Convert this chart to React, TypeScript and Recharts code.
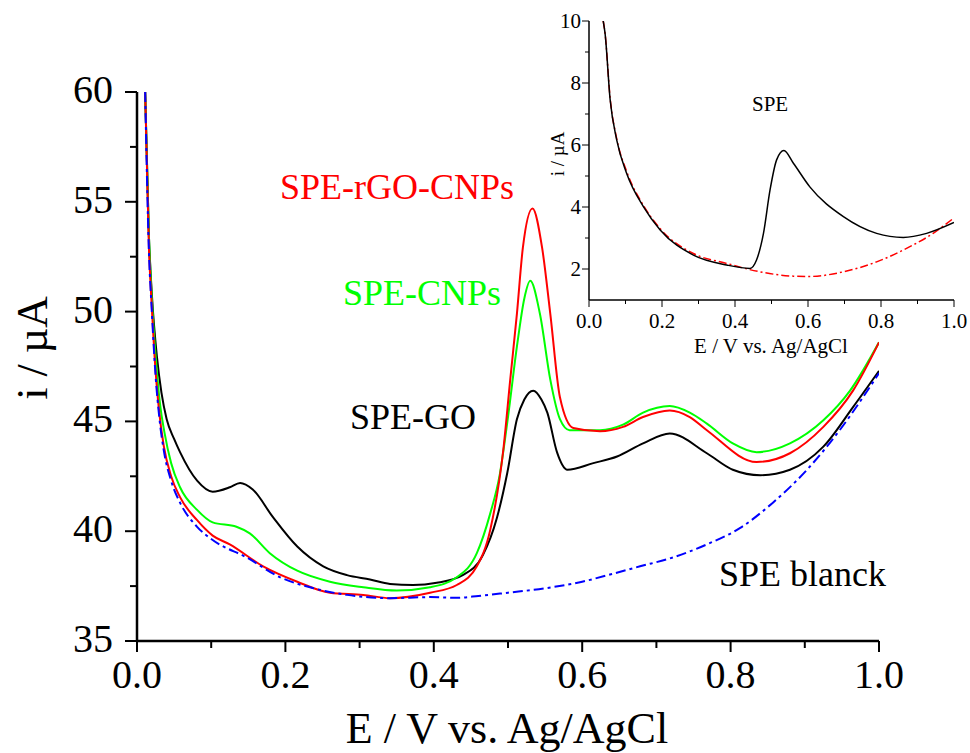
import React from "react";
import { LineChart, Line, XAxis, YAxis } from "recharts";

const FONT = '"Liberation Serif", "Times New Roman", serif';

// main chart: potential (V) and current (µA) per electrode
const goV = [0.011, 0.016, 0.02, 0.027, 0.033, 0.04, 0.05, 0.058, 0.081, 0.102, 0.125, 0.139, 0.156, 0.183, 0.216, 0.251, 0.283, 0.314, 0.341, 0.372, 0.404, 0.439, 0.466, 0.485, 0.499, 0.512, 0.522, 0.534, 0.545, 0.553, 0.566, 0.58, 0.615, 0.647, 0.682, 0.718, 0.768, 0.803, 0.84, 0.88, 0.925, 0.965, 1.0];
const goI = [60, 53.5, 50.8, 47.9, 46.3, 45.1, 44.2, 43.6, 42.3, 41.8, 42.0, 42.2, 41.9, 40.65, 39.3, 38.4, 38.0, 37.8, 37.6, 37.55, 37.65, 38.0, 38.9, 40.6, 42.65, 45.1, 46.0, 46.4, 46.0, 45.4, 43.6, 42.8, 43.1, 43.4, 44.0, 44.45, 43.55, 42.8, 42.55, 42.8, 43.85, 45.65, 47.3];

const cnpsV = [0.011, 0.016, 0.02, 0.026, 0.031, 0.037, 0.046, 0.058, 0.081, 0.102, 0.134, 0.152, 0.179, 0.216, 0.26, 0.305, 0.35, 0.395, 0.431, 0.458, 0.476, 0.489, 0.5, 0.512, 0.522, 0.53, 0.543, 0.557, 0.57, 0.583, 0.624, 0.655, 0.682, 0.718, 0.745, 0.768, 0.803, 0.835, 0.88, 0.925, 0.961, 1.0];
const cnpsI = [60, 53.5, 50.6, 47.6, 45.8, 44.5, 43.1, 42.0, 40.97, 40.4, 40.2, 39.9, 39.0, 38.2, 37.7, 37.45, 37.3, 37.45, 37.9, 39.0, 40.8, 42.6, 45.2, 48.4, 50.6, 51.4, 49.9, 46.9, 45.1, 44.6, 44.6, 44.85, 45.4, 45.7, 45.4, 44.9, 44.0, 43.6, 44.0, 45.05, 46.4, 48.6];

const rgoV = [0.011, 0.016, 0.02, 0.025, 0.03, 0.036, 0.046, 0.058, 0.081, 0.102, 0.125, 0.17, 0.216, 0.26, 0.305, 0.341, 0.395, 0.431, 0.458, 0.476, 0.494, 0.503, 0.512, 0.52, 0.533, 0.546, 0.557, 0.57, 0.588, 0.624, 0.655, 0.682, 0.718, 0.745, 0.768, 0.835, 0.88, 0.925, 0.965, 1.0];
const rgoI = [60, 53, 50.2, 47.3, 45.4, 43.9, 42.5, 41.55, 40.5, 39.8, 39.4, 38.4, 37.7, 37.2, 37.1, 36.95, 37.2, 37.55, 38.4, 40.05, 43.8, 46.9, 49.9, 52.9, 54.7, 52.9, 49.9, 46.1, 44.7, 44.55, 44.75, 45.2, 45.5, 45.2, 44.6, 43.15, 43.55, 44.75, 46.4, 48.6];

const blankV = [0.011, 0.016, 0.02, 0.025, 0.03, 0.036, 0.046, 0.058, 0.081, 0.102, 0.148, 0.193, 0.238, 0.283, 0.341, 0.395, 0.431, 0.46, 0.5, 0.55, 0.6, 0.64, 0.678, 0.722, 0.768, 0.813, 0.857, 0.903, 0.947, 1.0];
const blankI = [60, 52.8, 50.0, 47.1, 45.2, 43.7, 42.3, 41.3, 40.2, 39.6, 38.8, 37.9, 37.4, 37.1, 36.95, 37.0, 36.97, 37.05, 37.2, 37.4, 37.7, 38.05, 38.4, 38.8, 39.4, 40.15, 41.3, 42.8, 44.6, 47.2];

// inset: bare SPE with and without analyte
const speV = [0.039, 0.044, 0.058, 0.076, 0.103, 0.149, 0.195, 0.286, 0.377, 0.441, 0.459, 0.478, 0.496, 0.514, 0.534, 0.56, 0.605, 0.697, 0.788, 0.861, 0.925, 1.0];
const speI = [10, 9.6, 7.45, 6.16, 5.09, 4.01, 3.26, 2.45, 2.13, 2.02, 2.29, 3.15, 4.55, 5.52, 5.82, 5.41, 4.65, 3.69, 3.15, 3.02, 3.15, 3.5];
const speBlankV = [0.039, 0.044, 0.058, 0.076, 0.103, 0.149, 0.195, 0.286, 0.377, 0.468, 0.56, 0.605, 0.697, 0.788, 0.879, 0.943, 1.0];
const speBlankI = [10, 9.6, 7.5, 6.2, 5.15, 4.05, 3.3, 2.5, 2.18, 1.91, 1.77, 1.76, 1.91, 2.23, 2.72, 3.15, 3.65];

const mainXTicks = [0, 0.1, 0.2, 0.3, 0.4, 0.5, 0.6, 0.7, 0.8, 0.9, 1.0];
const mainYTicks = [35, 37.5, 40, 42.5, 45, 47.5, 50, 52.5, 55, 57.5, 60];
const insetXTicks = [0, 0.1, 0.2, 0.3, 0.4, 0.5, 0.6, 0.7, 0.8, 0.9, 1.0];
const insetYTicks = [2, 3, 4, 5, 6, 7, 8, 9, 10];

const rows = (vs: number[], is: number[]) => vs.map((v, k) => ({ v, i: is[k] }));

const MainXTick = ({ x, y, payload }: any) => {
  const major = Math.round(payload.value * 10) % 2 === 0;
  return (
    <g>
      <line x1={x} x2={x} y1={y} y2={y + (major ? 11 : 7)} stroke="#000" strokeWidth={2} />
      {major && (
        <text x={x} y={y + 47} textAnchor="middle" fontSize={40} fontFamily={FONT} fill="#000">
          {payload.value.toFixed(1)}
        </text>
      )}
    </g>
  );
};

const MainYTick = ({ x, y, payload }: any) => {
  const major = payload.value % 5 === 0;
  return (
    <g>
      <line x1={x} x2={x - (major ? 12 : 7)} y1={y} y2={y} stroke="#000" strokeWidth={2} />
      {major && (
        <text x={x - 24} y={y + 11} textAnchor="end" fontSize={40} fontFamily={FONT} fill="#000">
          {payload.value}
        </text>
      )}
    </g>
  );
};

const InsetXTick = ({ x, y, payload }: any) => {
  const major = Math.round(payload.value * 10) % 2 === 0;
  return (
    <g>
      <line x1={x} x2={x} y1={y} y2={y + (major ? 7 : 4)} stroke="#000" strokeWidth={1} />
      {major && (
        <text x={x} y={y + 28} textAnchor="middle" fontSize={21} fontFamily={FONT} fill="#000">
          {payload.value.toFixed(1)}
        </text>
      )}
    </g>
  );
};

const InsetYTick = ({ x, y, payload }: any) => {
  const major = payload.value % 2 === 0;
  return (
    <g>
      <line x1={x} x2={x - (major ? 7 : 4)} y1={y} y2={y} stroke="#000" strokeWidth={1} />
      {major && (
        <text x={x - 8} y={y + 7} textAnchor="end" fontSize={21} fontFamily={FONT} fill="#000">
          {payload.value}
        </text>
      )}
    </g>
  );
};

export default function App() {
  return (
    <div style={{ position: "absolute", left: 0, top: 0, width: 970, height: 753, background: "#fff" }}>
      <LineChart width={970} height={753} margin={{ top: 92, right: 91, bottom: 0, left: 0 }}>
        <XAxis
          type="number"
          dataKey="v"
          domain={[0, 1]}
          ticks={mainXTicks}
          interval={0}
          height={112}
          tick={<MainXTick />}
          tickLine={false}
          tickSize={0}
          tickMargin={0}
          axisLine={{ stroke: "#000", strokeWidth: 2.5 }}
          allowDataOverflow
        />
        <YAxis
          type="number"
          dataKey="i"
          domain={[35, 60]}
          ticks={mainYTicks}
          interval={0}
          width={137}
          tick={<MainYTick />}
          tickLine={false}
          tickSize={0}
          tickMargin={0}
          axisLine={{ stroke: "#000", strokeWidth: 2.5 }}
          allowDataOverflow
        />
        <Line data={rows(goV, goI)} dataKey="i" type="monotone" stroke="#000" strokeWidth={2} dot={false} isAnimationActive={false} />
        <Line data={rows(cnpsV, cnpsI)} dataKey="i" type="monotone" stroke="#00ff00" strokeWidth={2} dot={false} isAnimationActive={false} />
        <Line data={rows(rgoV, rgoI)} dataKey="i" type="monotone" stroke="#ff0000" strokeWidth={2} dot={false} isAnimationActive={false} />
        <Line data={rows(blankV, blankI)} dataKey="i" type="monotone" stroke="#0000ff" strokeWidth={2} strokeDasharray="10 4 3 4" dot={false} isAnimationActive={false} />
      </LineChart>

      <div style={{ position: "absolute", left: 540, top: 0 }}>
        <LineChart width={430} height={370} margin={{ top: 21, right: 16, bottom: 0, left: 0 }}>
          <XAxis
            type="number"
            dataKey="v"
            domain={[0, 1]}
            ticks={insetXTicks}
            interval={0}
            height={70}
            tick={<InsetXTick />}
            tickLine={false}
            tickSize={0}
            tickMargin={0}
            axisLine={{ stroke: "#000", strokeWidth: 1.5 }}
            allowDataOverflow
          />
          <XAxis xAxisId="top" orientation="top" type="number" domain={[0, 1]} height={0} tick={false} tickLine={false} axisLine={{ stroke: "#000", strokeWidth: 1.5 }} />
          <YAxis
            type="number"
            dataKey="i"
            domain={[1, 10]}
            ticks={insetYTicks}
            interval={0}
            width={49}
            tick={<InsetYTick />}
            tickLine={false}
            tickSize={0}
            tickMargin={0}
            axisLine={{ stroke: "#000", strokeWidth: 1.5 }}
            allowDataOverflow
          />
          <YAxis yAxisId="right" orientation="right" type="number" domain={[1, 10]} width={0} tick={false} tickLine={false} axisLine={{ stroke: "#000", strokeWidth: 1.5 }} />
          <Line data={rows(speBlankV, speBlankI)} dataKey="i" type="monotone" stroke="#ff0000" strokeWidth={1.5} strokeDasharray="8 3 2 3" dot={false} isAnimationActive={false} />
          <Line data={rows(speV, speI)} dataKey="i" type="monotone" stroke="#000" strokeWidth={1.5} dot={false} isAnimationActive={false} />
        </LineChart>
      </div>

      <svg width={970} height={753} style={{ position: "absolute", left: 0, top: 0, pointerEvents: "none" }} fontFamily={FONT}>
        <text x={280} y={199} fontSize={36} fill="#ff0000">SPE-rGO-CNPs</text>
        <text x={343} y={305} fontSize={36} fill="#00ff00">SPE-CNPs</text>
        <text x={350} y={429} fontSize={36} fill="#000">SPE-GO</text>
        <text x={719} y={586} fontSize={36} fill="#000">SPE blanck</text>
        <text x={507} y={743} fontSize={44} textAnchor="middle" fill="#000">E / V vs. Ag/AgCl</text>
        <text transform="translate(47 348) rotate(-90)" fontSize={44} textAnchor="middle" fill="#000">i / µA</text>
        <text x={752} y={111} fontSize={21} fill="#000">SPE</text>
        <text x={771} y={353} fontSize={21} textAnchor="middle" fill="#000">E / V vs. Ag/AgCl</text>
        <text transform="translate(564 154) rotate(-90)" fontSize={19} textAnchor="middle" fill="#000">i / µA</text>
      </svg>
    </div>
  );
}
